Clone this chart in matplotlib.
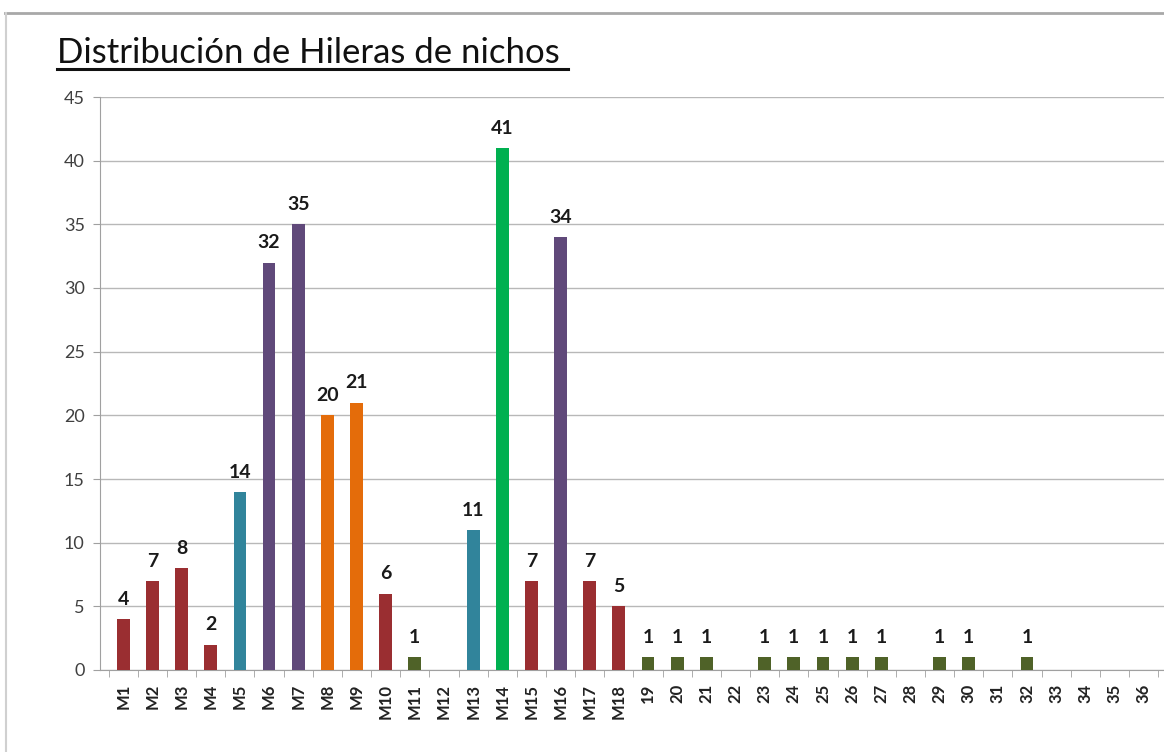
import numpy as np
import matplotlib.pyplot as plt
from matplotlib.lines import Line2D
from matplotlib.ticker import FixedLocator

categories = ["M1", "M2", "M3", "M4", "M5", "M6", "M7", "M8", "M9", "M10",
              "M11", "M12", "M13", "M14", "M15", "M16", "M17", "M18",
              "19", "20", "21", "22", "23", "24", "25", "26", "27", "28",
              "29", "30", "31", "32", "33", "34", "35", "36"]
values = [4, 7, 8, 2, 14, 32, 35, 20, 21, 6,
          1, 0, 11, 41, 7, 34, 7, 5,
          1, 1, 1, 0, 1, 1, 1, 1, 1, 0,
          1, 1, 0, 1, 0, 0, 0, 0]
groups = ["red", "red", "red", "red", "teal", "purple", "purple", "orange", "orange", "red",
          "olive", "olive", "teal", "green", "red", "purple", "red", "red"] + ["olive"] * 18

palette = {"red": "#9A2E31", "teal": "#31849B", "purple": "#60497A",
           "orange": "#E46C0A", "green": "#00B050", "olive": "#4F6228"}

plt.rcParams['font.family'] = ['Lato', 'DejaVu Sans']

fig = plt.figure(figsize=(11.64, 7.52), dpi=100)
ax = fig.add_axes([100 / 1164, 1 - 670 / 752, 1 - 100 / 1164, (670 - 97) / 752])

x = np.arange(len(categories))
colors = [palette[g] for g in groups]
ax.bar(x, values, width=0.44, color=colors, zorder=3)

for xi, v in zip(x, values):
    if v > 0:
        ax.annotate(str(v), (xi, v), xytext=(0, 8), textcoords="offset points",
                    ha="center", va="bottom", fontsize=14, fontweight="bold",
                    color="#1a1a1a")

ax.set_ylim(0, 45)
ax.set_yticks(range(0, 46, 5))
ax.set_xlim(-0.8, 35.7)
ax.set_xticks(x)
ax.set_xticklabels(categories, rotation=90, fontsize=12, fontweight="bold",
                   color="#222222")
ax.xaxis.set_minor_locator(FixedLocator(np.arange(-0.5, 36, 1)))
ax.tick_params(axis="x", which="major", length=0, pad=10)
ax.tick_params(axis="x", which="minor", length=5, color="#A0A0A0")
ax.tick_params(axis="y", length=5, color="#A0A0A0", labelsize=13,
               labelcolor="#404040", pad=6)

ax.grid(axis="y", color="#B8B8B8", linewidth=1.0, zorder=0)
for side in ["top", "right"]:
    ax.spines[side].set_visible(False)
ax.spines["left"].set_color("#A0A0A0")
ax.spines["bottom"].set_color("#A0A0A0")

fig.text(57 / 1164, 1 - 63 / 752, "Distribución de Hileras de nichos",
         fontsize=25, color="#111111", ha="left", va="baseline")
fig.add_artist(Line2D([57 / 1164, 568 / 1164], [1 - 69 / 752, 1 - 69 / 752],
                      color="#111111", linewidth=2.2))

# screenshot frame
fig.add_artist(Line2D([5 / 1164, 1], [1 - 13 / 752, 1 - 13 / 752],
                      color="#A8A8A8", linewidth=2))
fig.add_artist(Line2D([6 / 1164, 6 / 1164], [1 - 13 / 752, 0],
                      color="#D0D0D0", linewidth=1.5))

fig.savefig("out.png", dpi=100)
